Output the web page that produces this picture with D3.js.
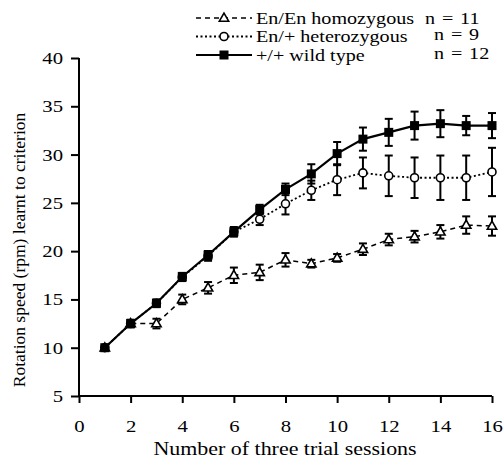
<!DOCTYPE html>
<html>
<head>
<meta charset="utf-8">
<script src="https://cdn.jsdelivr.net/npm/d3@7"></script>
<style>
  body { margin: 0; background: #fff; }
</style>
</head>
<body>
<div id="chart"></div>
<script>
// sessions 1..16
var sessions = [1, 2, 3, 4, 5, 6, 7, 8, 9, 10, 11, 12, 13, 14, 15, 16];

var homoMean = [10, 12.5, 12.5, 15.0, 16.2, 17.5, 17.8, 19.1, 18.7, 19.3, 20.2, 21.2, 21.5, 22.0, 22.7, 22.6];
var homoErr  = [0.2, 0.4, 0.5, 0.5, 0.6, 0.8, 0.8, 0.7, 0.4, 0.4, 0.6, 0.6, 0.6, 0.7, 0.9, 1.0];

var hetMean = [10, 12.5, 14.6, 17.3, 19.5, 22.0, 23.3, 24.9, 26.3, 27.4, 28.1, 27.8, 27.6, 27.6, 27.6, 28.2];
var hetErr  = [0.2, 0.3, 0.4, 0.4, 0.5, 0.5, 0.6, 1.1, 1.0, 1.6, 1.6, 2.1, 2.1, 2.3, 2.3, 2.5];

var wildMean = [10, 12.5, 14.6, 17.35, 19.6, 22.0, 24.3, 26.4, 28.0, 30.1, 31.6, 32.3, 33.0, 33.2, 33.0, 33.0];
var wildErr  = [0.2, 0.3, 0.3, 0.4, 0.4, 0.4, 0.5, 0.6, 1.0, 1.2, 1.2, 1.4, 1.45, 1.4, 1.0, 1.3];

var xTicks = [0, 2, 4, 6, 8, 10, 12, 14, 16];
var yTicks = [5, 10, 15, 20, 25, 30, 35, 40];

var legendLabels = ["En/En homozygous", "En/+ heterozygous", "+/+ wild type"];
var legendN = ["n = 11", "n = 9", "n = 12"];

var FONT = "'Liberation Serif', 'Times New Roman', Times, serif";
var SX = 1.22; // the scan is stretched sideways, so horizontal text is widened a bit
var width = 503, height = 462;

var svg = d3.select("#chart").append("svg")
    .attr("width", width)
    .attr("height", height);

var x = d3.scaleLinear().domain([0, 16]).range([79, 492]);
var y = d3.scaleLinear().domain([5, 40]).range([396, 58]);

// axes
var xAxis = svg.append("g")
    .attr("transform", "translate(0," + y(5) + ")")
    .call(d3.axisBottom(x).tickValues(xTicks).tickSize(7).tickPadding(17));
var yAxis = svg.append("g")
    .attr("transform", "translate(" + x(0) + ",0)")
    .call(d3.axisLeft(y).tickValues(yTicks).tickSize(8));

[xAxis, yAxis].forEach(function (g) {
    g.attr("font-family", FONT).attr("font-size", 17);
    g.select(".domain").attr("stroke", "#000").attr("stroke-width", 2);
    g.selectAll(".tick line").attr("stroke", "#000").attr("stroke-width", 2);
    g.selectAll(".tick text").attr("fill", "#000")
        .attr("transform", "scale(" + SX + ",1)");
});
yAxis.selectAll(".tick text").attr("x", -16 / SX);
xAxis.select(".domain").attr("d", "M" + x(0) + ",0H" + x(16));
yAxis.select(".domain").attr("d", "M0," + y(5) + "V" + y(40));

// axis titles
svg.append("g")
    .attr("transform", "translate(285,455)")
    .append("text")
    .attr("transform", "scale(" + SX + ",1)")
    .attr("text-anchor", "middle")
    .attr("font-family", FONT)
    .attr("font-size", 18)
    .text("Number of three trial sessions");

svg.append("text")
    .attr("transform", "translate(25,250) rotate(-90)")
    .attr("text-anchor", "middle")
    .attr("font-family", FONT)
    .attr("font-size", 17.5)
    .text("Rotation speed (rpm) learnt to criterion");

var series = [
    { mean: homoMean, err: homoErr, dash: "5,4", width: 1.5, marker: "triangle" },
    { mean: hetMean, err: hetErr, dash: "2,2.5", width: 1.8, marker: "circle" },
    { mean: wildMean, err: wildErr, dash: null, width: 2.2, marker: "square" }
];

function drawMarker(g, type, cx, cy) {
    if (type === "square") {
        g.append("rect").attr("x", cx - 4.5).attr("y", cy - 4.5)
            .attr("width", 9).attr("height", 9).attr("fill", "#000");
    } else if (type === "circle") {
        g.append("circle").attr("cx", cx).attr("cy", cy).attr("r", 4)
            .attr("fill", "#fff").attr("stroke", "#000").attr("stroke-width", 1.6);
    } else {
        g.append("path")
            .attr("d", d3.symbol().type(d3.symbolTriangle).size(38)())
            .attr("transform", "translate(" + cx + "," + (cy + 0.5) + ")")
            .attr("fill", "#fff").attr("stroke", "#000").attr("stroke-width", 1.6);
    }
}

var line = d3.line()
    .x(function (d) { return x(d.s); })
    .y(function (d) { return y(d.m); });

series.forEach(function (s) {
    var g = svg.append("g");
    var pts = sessions.map(function (v, i) { return { s: v, m: s.mean[i], e: s.err[i] }; });

    // error bars
    pts.forEach(function (p) {
        if (p.e < 0.35) return;
        var cx = x(p.s), top = y(p.m + p.e), bot = y(p.m - p.e);
        g.append("line").attr("x1", cx).attr("x2", cx).attr("y1", top).attr("y2", bot)
            .attr("stroke", "#000").attr("stroke-width", 2);
        [top, bot].forEach(function (yy) {
            g.append("line").attr("x1", cx - 4).attr("x2", cx + 4).attr("y1", yy).attr("y2", yy)
                .attr("stroke", "#000").attr("stroke-width", 2);
        });
    });

    g.append("path")
        .datum(pts)
        .attr("d", line)
        .attr("fill", "none")
        .attr("stroke", "#000")
        .attr("stroke-width", s.width)
        .attr("stroke-dasharray", s.dash);

    pts.forEach(function (p) { drawMarker(g, s.marker, x(p.s), y(p.m)); });
});

// legend
var legY = [18, 36.5, 55];
var legNx = [425, 434, 434];
series.forEach(function (s, i) {
    var g = svg.append("g");
    g.append("line")
        .attr("x1", 196).attr("x2", 252).attr("y1", legY[i]).attr("y2", legY[i])
        .attr("stroke", "#000").attr("stroke-width", s.width)
        .attr("stroke-dasharray", s.dash);
    drawMarker(g, s.marker, 224, legY[i]);
    g.append("g").attr("transform", "translate(256," + (legY[i] + 5.5) + ")")
        .append("text").attr("transform", "scale(" + SX + ",1)")
        .attr("font-family", FONT).attr("font-size", 16.5).text(legendLabels[i]);
    g.append("g").attr("transform", "translate(" + legNx[i] + "," + (legY[i] + 5.5 - (i > 0 ? 2 : 0)) + ")")
        .append("text").attr("transform", "scale(" + SX + ",1)")
        .attr("font-family", FONT).attr("font-size", 16.5)
        .attr("word-spacing", 1.5)
        .text(legendN[i]);
});
</script>
</body>
</html>
